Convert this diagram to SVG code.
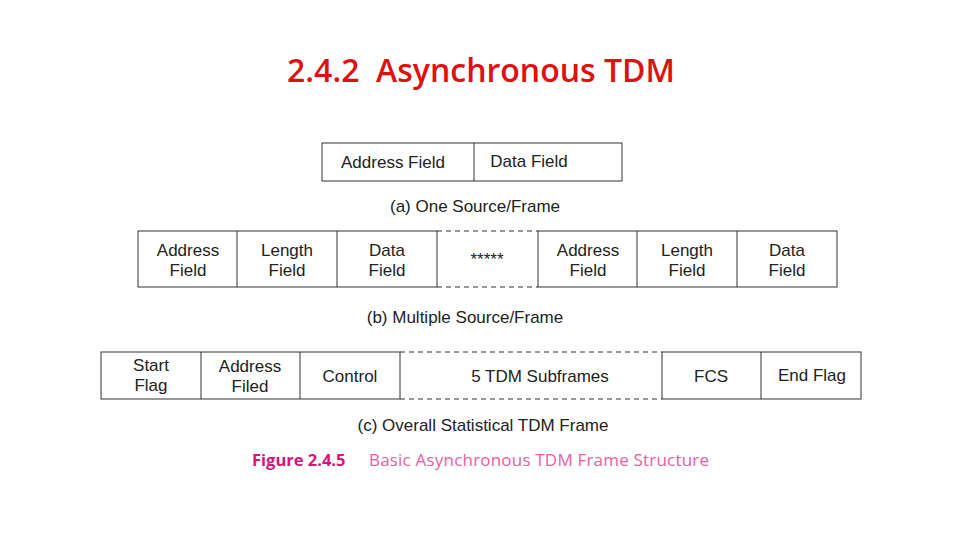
<svg xmlns="http://www.w3.org/2000/svg" width="960" height="540" viewBox="0 0 960 540">
<style>
.b{fill:#fff;stroke:#333;stroke-width:1}
.d{stroke:#333;stroke-width:1;stroke-dasharray:5,4;fill:none}
.t{font-family:"Liberation Sans",Arial,sans-serif;font-size:17px;fill:#222;text-anchor:middle}
.c{font-family:"Liberation Sans",Arial,sans-serif;font-size:17px;fill:#222;text-anchor:middle}
</style>
<rect width="960" height="540" fill="#fff"/>
<text x="481" y="82" xml:space="preserve" font-family="'Open Sans','Liberation Sans',sans-serif" font-size="32" font-weight="600" fill="#e01010" text-anchor="middle">2.4.2  Asynchronous TDM</text>
<g id="rowA">
<rect class="b" x="322" y="143" width="300" height="38"/>
<line x1="474" y1="143" x2="474" y2="181" stroke="#333"/>
<text class="t" x="393" y="168">Address Field</text>
<text class="t" x="529" y="167">Data Field</text>
</g>
<text class="c" x="475" y="212">(a) One Source/Frame</text>
<g id="rowB">
<rect class="b" x="138" y="231" width="299" height="56"/>
<line x1="237" y1="231" x2="237" y2="287" stroke="#333"/>
<line x1="337" y1="231" x2="337" y2="287" stroke="#333"/>
<path class="d" d="M437 231H538M437 287H538"/>
<rect class="b" x="538" y="231" width="299" height="56"/>
<line x1="637" y1="231" x2="637" y2="287" stroke="#333"/>
<line x1="737" y1="231" x2="737" y2="287" stroke="#333"/>
<text class="t" x="188" y="256">Address</text><text class="t" x="188" y="276">Field</text>
<text class="t" x="287" y="256">Length</text><text class="t" x="287" y="276">Field</text>
<text class="t" x="387" y="256">Data</text><text class="t" x="387" y="276">Field</text>
<text class="t" x="487" y="265" font-size="14">*****</text>
<text class="t" x="588" y="256">Address</text><text class="t" x="588" y="276">Field</text>
<text class="t" x="687" y="256">Length</text><text class="t" x="687" y="276">Field</text>
<text class="t" x="787" y="256">Data</text><text class="t" x="787" y="276">Field</text>
</g>
<text class="c" x="465" y="323">(b) Multiple Source/Frame</text>
<g id="rowC">
<rect class="b" x="101" y="352" width="299" height="47"/>
<line x1="201" y1="352" x2="201" y2="399" stroke="#333"/>
<line x1="300" y1="352" x2="300" y2="399" stroke="#333"/>
<path class="d" d="M400 352H662M400 399H662"/>
<rect class="b" x="662" y="352" width="199" height="47"/>
<line x1="761" y1="352" x2="761" y2="399" stroke="#333"/>
<text class="t" x="151" y="371">Start</text><text class="t" x="151" y="391">Flag</text>
<text class="t" x="250" y="372">Address</text><text class="t" x="250" y="392">Filed</text>
<text class="t" x="350" y="382">Control</text>
<text class="t" x="540" y="382">5 TDM Subframes</text>
<text class="t" x="711" y="382">FCS</text>
<text class="t" x="812" y="381">End Flag</text>
</g>
<text class="c" x="483" y="431">(c) Overall Statistical TDM Frame</text>
<text x="252" y="466" font-family="'Open Sans','Liberation Sans',sans-serif" font-size="16.5" font-weight="bold" fill="#d4157a">Figure 2.4.5</text>
<text x="369" y="466" font-family="'Open Sans','Liberation Sans',sans-serif" font-size="17" fill="#e8609f" textLength="340">Basic Asynchronous TDM Frame Structure</text>
</svg>
